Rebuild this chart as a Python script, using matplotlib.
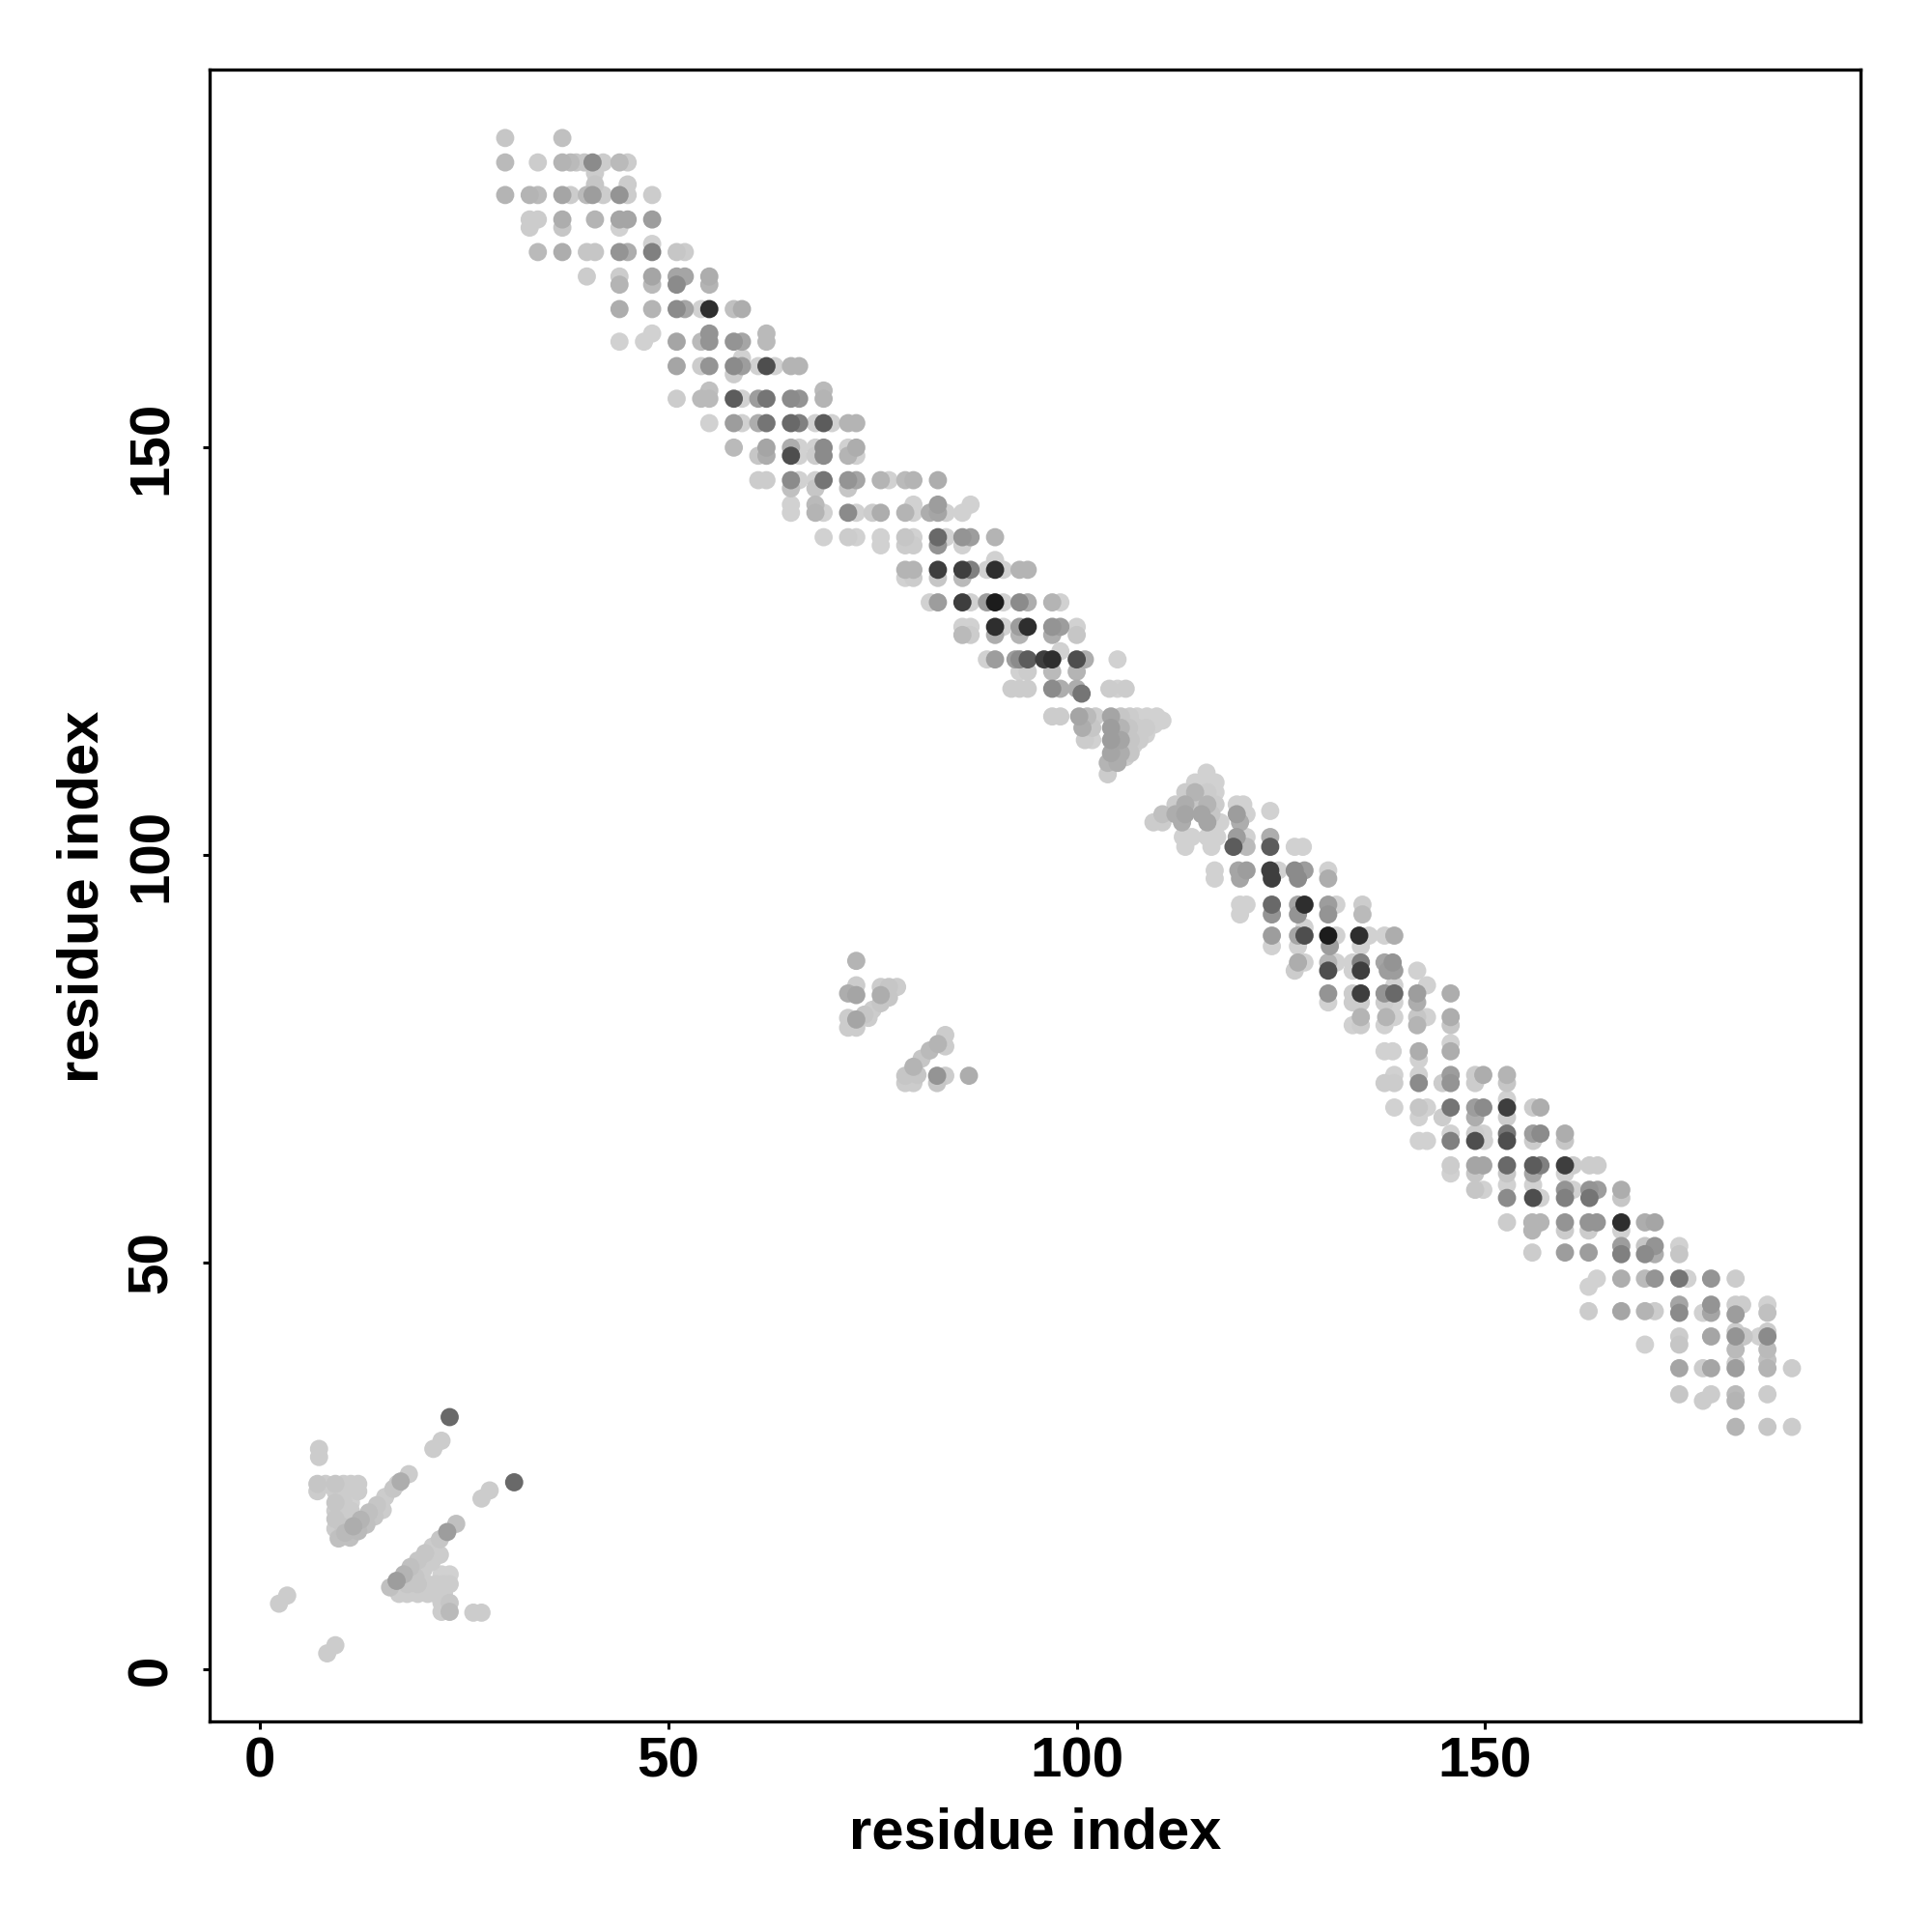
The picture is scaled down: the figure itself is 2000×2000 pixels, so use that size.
import numpy as np
import matplotlib.pyplot as plt

plt.rcParams["font.family"] = ["Liberation Sans", "DejaVu Sans"]
plt.rcParams["font.weight"] = "bold"

# contacts: (residue i, residue j, strength 0..1)
band_top = [
    (30, 188, .2), (37, 188, .25),
    (30, 185, .3), (34, 185, .15), (37, 185, .35), (38, 185, .3), (38.7, 185, .2),
    (39.7, 185, .2), (40.7, 185, .6), (42, 185, .15), (44, 185, .3), (45, 185, .15),
    (41, 183.7, .15), (41, 182.3, .2), (45, 182.3, .15),
    (30, 181, .35), (33, 181, .35), (34, 181, .3), (37, 181, .45), (38, 181, .15),
    (40, 181, .3), (40.7, 181, .5), (42, 181, .15), (44, 181, .55), (45, 181, .15), (48, 181, .15),
    (33, 178, .15), (34, 178, .15), (33, 177, .15), (37, 178, .4), (37, 177, .2),
    (41, 178, .35), (44, 178, .45), (45, 178, .45), (44, 177, .1), (48, 178, .5),
    (34, 174, .3), (37, 174, .4), (40, 174, .2), (41, 174, .2), (44, 174, .55),
    (45, 174, .4), (48, 174, .65), (48, 175, .1), (51, 174, .2), (52, 174, .15),
    (40, 171, .15), (44, 171, .15), (44, 170, .35), (48, 171, .45), (48, 170, .3),
    (51, 171, .45), (52, 171, .45), (51, 170, .6), (55, 171, .4), (55, 170, .35),
    (44, 167, .4), (48, 167, .35), (51, 167, .6), (52, 167, .45), (54, 167, .1),
    (55, 167, .95), (58, 167, .25), (59, 167, .4),
    (44, 163, .1), (47, 163, .1), (48, 164, .1), (51, 163, .45), (54, 163, .3),
    (55, 164, .55), (55, 163, .55), (58, 163, .55), (59, 163, .45), (62, 163, .3), (62, 164, .3),
    (51, 160, .45), (54, 160, .15), (55, 160, .55), (58, 160, .6), (59, 161, .1),
    (59, 160, .5), (58, 159, .15), (61, 160, .1), (62, 160, .85), (63, 160, .1),
    (65, 160, .35), (66, 160, .35),
    (51, 156, .15), (54, 156, .3), (55, 156, .3), (55, 157, .25), (58, 156, .8),
    (59, 156, .1), (61, 156, .5), (62, 156, .7), (65, 156, .6), (66, 156, .55),
    (69, 156, .35), (69, 157, .3),
    (55, 153, .1), (58, 153, .5), (59, 153, .1), (61, 153, .4), (62, 153, .7),
    (65, 153, .75), (66, 153, .65), (68, 153, .1), (69, 153, .8), (70, 153, .1),
    (72, 153, .35), (73, 153, .35),
    (58, 150, .3),
]

band_upper = [
    (62, 150, .45), (65, 150, .4), (66, 150, .1), (68, 150, .1), (69, 150, .6),
    (72, 150, .1), (73, 150, .4),
    (61, 149, .2), (62, 149, .4), (65, 149, .85), (66, 149, .1), (68, 149, .15),
    (69, 149, .6), (72, 149, .35), (73, 149, .1),
    (61, 146, .15), (62, 146, .15), (65, 146, .6), (66, 146, .1), (68, 146, .1),
    (69, 146, .7), (72, 146, .55), (73, 146, .45), (76, 146, .35), (77, 146, .1),
    (79, 146, .3), (80, 146, .35), (83, 146, .4),
    (65, 145, .25), (68, 145, .2), (72, 145, .2),
    (65, 143, .1), (68, 143, .3), (80, 143, .1), (83, 143, .5), (87, 143, .1),
    (65, 142, .1), (68, 142, .35), (69, 142, .1), (72, 142, .6), (73, 142, .1),
    (75, 142, .15), (76, 142, .4), (79, 142, .35), (80, 142, .1), (82, 142, .4),
    (83, 142, .45), (84, 142, .1), (86, 142, .1),
    (69, 139, .1), (72, 139, .15), (73, 139, .1), (76, 139, .1), (79, 139, .2),
    (80, 139, .1), (83, 139, .75), (84, 139, .1), (86, 139, .55), (87, 139, .5), (90, 139, .35),
    (76, 138, .1), (79, 138, .15), (80, 138, .15), (83, 138, .55), (86, 138, .1), (90, 136.2, .1),
    (79, 135, .35), (80, 135, .35), (83, 135, .9), (86, 135, .9), (87, 135, .65),
    (89, 135, .1), (90, 135, .95), (91, 135, .1), (93, 135, .35), (94, 135, .35),
    (79, 134, .1), (80, 134, .15), (83, 134, .2), (86, 134, .3),
    (82, 131, .1), (83, 131, .5), (86, 131, .9), (87, 131, .1), (89, 131, .5),
    (90, 131, 1.0), (91, 131, .1), (93, 131, .6), (94, 131, .4), (97, 131, .35), (98, 131, .1),
    (86, 128, .1), (87, 128, .1), (90, 128, .95), (91, 128, .1), (93, 128, .5),
    (94, 128, .95), (97, 128, .55), (98, 128, .5), (100, 128, .1),
    (86, 127, .3), (87, 127, .15), (90, 127, .4), (93, 127, .35), (97, 127, .4), (100, 127, .2),
    (89, 124, .1), (90, 124, .5), (92.5, 124, .5), (93, 124, .6), (94, 124, .8),
    (96, 124, .9), (97, 124, .95), (98, 125, .1), (100, 124, .85), (101, 124, .4), (105, 124, .1),
    (93, 122.5, .1), (94, 122.5, .15), (97, 122.5, .3), (100, 122.5, .35),
    (92, 120.4, .15), (93, 120.4, .15), (94, 120.4, .15), (97, 120.4, .6), (98, 120.4, .4),
    (100, 120.4, .4), (100.6, 119.8, .7), (104, 120.4, .15), (105, 120.4, .1), (106, 120.4, .15),
]

hinge_upper = [
    (97, 117, .15), (98, 117, .15), (100.3, 117, .45), (101.3, 117, .3), (102.3, 117, .15),
    (104.2, 117, .45), (105.4, 117, .2), (106.5, 117, .15), (107.4, 117, .1),
    (108.6, 117, .1), (109.8, 117, .1), (110.5, 116.5, .1),
    (100.7, 115.6, .4), (101.9, 115.6, .2), (104.2, 115.6, .5), (105.4, 115.6, .35),
    (106.4, 115.6, .2), (107.4, 115.6, .15), (108.5, 115.6, .15),
    (101, 114.1, .15), (101.9, 114.1, .1), (104.2, 114.1, .5), (105.4, 114.1, .45),
    (106.6, 114.1, .2), (107.7, 114.1, .15),
    (104.2, 112.5, .45), (105.4, 112.5, .4), (106.6, 112.5, .2),
    (103.8, 111.3, .35), (105, 111.3, .4), (103.8, 109.9, .15),
    (106, 112, .15), (107, 113.5, .1), (108.5, 114.8, .1), (109.5, 116, .1),
]

hinge_lower = [
    (115.9, 110.1, .1),
    (114.5, 108.9, .1), (116, 108.9, .1), (117, 108.9, .1),
    (113.3, 107.7, .15), (114.5, 107.7, .35), (116, 107.7, .15), (117, 107.7, .1),
    (112.1, 106.2, .15), (113.3, 106.2, .4), (114.5, 106.2, .2), (116, 106.2, .35),
    (117, 106.2, .15), (119.6, 106.2, .1), (120.4, 106.2, .1),
    (110.5, 105, .25), (112.1, 105, .4), (113.3, 105, .45), (115.3, 105, .45),
    (116.5, 105, .2), (119.6, 105, .5), (120.8, 105, .1), (123.7, 105.4, .1),
    (109.4, 104, .15), (110.5, 104, .15), (112.9, 104, .4), (116, 104, .45),
    (117.6, 104, .1), (120, 104, .4),
    (113, 102.2, .1), (114.1, 102.2, .1), (116, 102.2, .1), (117.2, 102.2, .1),
    (119.6, 102.2, .5), (120.8, 102.2, .1), (123.7, 102.2, .4),
    (113.3, 101, .1), (116.5, 101, .1), (119.2, 101, .8), (120.8, 101, .3),
    (123.7, 101, .8), (126.7, 101, .1), (127.7, 101, .1),
]

band_lower = [
    (116.9, 98.1, .1), (119.8, 98.1, .45), (120.8, 98.1, .5), (123.7, 98.1, .9),
    (124.7, 98.1, .1), (126.7, 98.1, .6), (127.9, 98.1, .5), (130.8, 98.1, .1),
    (116.9, 97.1, .1), (120, 97.1, .45), (123.9, 97.1, .9), (127.1, 97.1, .6), (130.8, 97.1, .4),
    (120, 93.9, .1), (120.8, 93.9, .1), (123.9, 93.9, .75), (127.1, 93.9, .45),
    (127.9, 93.9, .95), (130.8, 93.9, .5), (131.8, 93.9, .1), (135, 93.9, .15),
    (120, 92.7, .1), (123.9, 92.7, .55), (127.1, 92.7, .55), (130.8, 92.7, .55), (135, 92.7, .3),
    (127.9, 91.1, .1),
    (123.9, 90.1, .5), (127.1, 90.1, .45), (127.9, 90.1, .85), (130.8, 90.1, 1.0),
    (131.8, 90.1, .1), (134.6, 90.1, .95), (135.8, 90.1, .1), (137.7, 90.1, .1), (138.9, 90.1, .4),
    (123.9, 88.8, .1), (127.1, 88.8, .1), (131, 88.8, .5), (134.8, 88.8, .1),
    (127.1, 86.8, .4), (127.9, 86.8, .1), (130.8, 86.8, .35), (131.8, 86.8, .1),
    (133.8, 86.8, .1), (134.8, 86.8, .65), (137.7, 86.8, .45), (138.7, 86.8, .55),
    (126.7, 85.8, .15), (130.8, 85.8, .85), (133.8, 85.8, .1), (134.8, 85.8, .9),
    (138.1, 85.8, .5), (138.9, 85.8, .5), (141.7, 85.8, .1),
    (138.9, 84, .1), (142.9, 84, .1),
    (130.8, 83, .55), (133.8, 83, .15), (134.8, 83, .9), (137.7, 83, .55),
    (138.9, 83, .75), (141.7, 83, .5), (145.8, 83, .4),
    (130.8, 81.9, .1), (133.8, 81.9, .15), (134.8, 81.9, .15), (137.7, 81.9, .15),
    (138.9, 81.9, .1), (141.7, 81.9, .4),
    (134.8, 80.1, .35), (137.9, 80.1, .35), (138.9, 80.1, .1), (141.7, 80.1, .2),
    (142.9, 80.1, .1), (145.8, 80.1, .4),
    (133.8, 79.1, .1), (134.8, 79.1, .15), (137.7, 79.1, .1), (141.7, 79.1, .35), (145.8, 79.1, .2),
    (145.8, 76.9, .1),
    (137.7, 75.9, .1), (138.7, 75.9, .1), (141.9, 75.9, .4), (145.8, 75.9, .4), (141.9, 74.9, .1),
    (138.9, 73, .1), (141.9, 73, .1), (145.8, 73, .5), (148.8, 73, .15), (149.8, 73, .4), (152.7, 73, .35),
    (137.7, 72, .15), (138.9, 72, .15), (141.9, 72, .6), (144.8, 72, .15),
    (145.8, 72, .55), (148.8, 72, .15), (152.7, 72, .2), (152.7, 70, .1),
    (138.9, 69, .1), (141.9, 69, .2), (142.9, 69, .1), (145.8, 69, .7), (148.8, 69, .5),
    (149.8, 69, .6), (152.7, 69, .9), (155.9, 69, .15), (156.8, 69, .4),
    (141.9, 67.8, .1), (144.8, 67.8, .15), (148.8, 67.8, .4), (152.7, 67.8, .15),
    (145.8, 65.8, .1), (148.8, 65.8, .15), (149.8, 65.8, .1), (152.7, 65.8, .7),
    (155.9, 65.8, .5), (156.8, 65.8, .6), (159.8, 65.8, .4),
    (141.9, 64.9, .1), (142.9, 64.9, .1), (145.8, 64.9, .65), (148.8, 64.9, .85),
    (149.9, 64.9, .1), (152.7, 64.9, .85), (155.9, 64.9, .15), (159.8, 64.9, .2),
    (145.8, 61.9, .15), (148.8, 61.9, .45), (149.8, 61.9, .45), (152.7, 61.9, .75),
    (155.9, 61.9, .8), (156.8, 61.9, .65), (159.8, 61.9, .9), (160.8, 61.9, .15),
    (162.8, 61.9, .15), (163.8, 61.9, .15),
    (145.8, 60.9, .1), (148.8, 60.9, .2), (152.7, 60.9, .2), (155.9, 60.9, .45), (159.8, 60.9, .1),
    (148.8, 58.9, .2), (149.8, 58.9, .1), (152.7, 59.5, .1), (155.9, 59.5, .1),
    (159.8, 58.9, .55), (160.8, 58.9, .1), (162.8, 58.9, .55), (163.8, 58.9, .5), (166.7, 58.9, .4),
    (152.7, 57.9, .6), (155.9, 57.9, .85), (156.8, 57.9, .1), (159.8, 57.9, .65),
    (162.8, 57.9, .7), (166.7, 57.9, .2),
]

band_tail = [
    (152.7, 54.9, .15), (155.8, 54.9, .35), (156.8, 54.9, .35), (155.8, 53.9, .35),
    (159.8, 54.9, .55), (159.8, 53.9, .15), (162.7, 54.9, .55), (163.7, 54.9, .55),
    (162.7, 53.9, .15), (166.7, 54.9, .95), (166.7, 53.9, .1), (169.6, 54.9, .4), (170.8, 54.9, .45),
    (155.8, 51.2, .15), (159.8, 51.2, .5), (162.7, 51.2, .5), (166.7, 52, .5), (166.7, 51, .65),
    (169.6, 52, .2), (170.8, 52, .55), (169.6, 51, .6), (170.8, 51, .4), (173.8, 52, .1), (173.8, 51, .2),
    (162.7, 47, .1), (163.7, 48, .1), (166.7, 48, .4), (169.6, 48, .3), (170.8, 48, .55),
    (173.8, 48, .7), (174.8, 48, .1), (177.7, 48, .55), (180.7, 48, .15),
    (162.7, 44, .15), (166.7, 44, .45), (169.6, 44, .35), (170.8, 44, .15), (173.8, 44.8, .45),
    (173.8, 43.8, .6), (176.7, 43.8, .1), (177.7, 44.8, .55), (177.7, 43.8, .45),
    (180.7, 44.8, .15), (181.5, 44.8, .15), (180.7, 43.6, .5), (184.6, 44.8, .1), (184.6, 43.8, .25),
    (169.6, 39.9, .1), (173.8, 40.9, .15), (173.8, 39.9, .2), (177.7, 40.9, .45),
    (180.7, 41.5, .15), (180.7, 40.9, .55), (181.7, 40.9, .2), (183.6, 40.9, .1),
    (184.6, 41.5, .15), (184.6, 40.9, .6), (180.7, 39.3, .3), (184.6, 39.3, .3), (184.6, 38, .25),
    (173.8, 37, .45), (176.7, 37, .15), (177.7, 37, .45), (180.7, 37.6, .15), (180.7, 37, .5),
    (184.6, 37, .35), (187.6, 37, .15),
    (173.8, 33.8, .2), (176.7, 33, .15), (177.7, 33.8, .15), (180.7, 33.8, .3),
    (180.7, 33, .35), (184.6, 33.8, .15),
    (180.7, 29.8, .35), (184.6, 29.8, .2), (187.6, 29.8, .15),
]

side_cluster = [
    (73, 87, .35), (73, 84, .15), (73, 82.8, .45), (72, 83, .4), (76, 83.8, .15),
    (77, 83.8, .2), (78, 83.8, .15), (76, 82.8, .4), (77, 82.5, .2),
    (72, 78.8, .15), (73, 79.8, .45), (74, 80.4, .2), (75, 81, .15), (76, 81.8, .2),
    (72, 80, .15), (73, 78.8, .15), (74.5, 80, .15),
    (79, 72.9, .2), (80, 74, .35), (81, 75, .2), (82, 76, .3), (83, 76.8, .35),
    (83.9, 77.9, .15), (83.9, 76.5, .15), (79, 72, .15), (80, 72, .15), (82.9, 72.9, .55),
    (83.9, 72.9, .15), (82.9, 72, .2), (86.8, 72.9, .4), (80.5, 73, .2),
]

nterm_cluster = [
    (23.2, 31.0, .75), (21.2, 27.1, .15), (22.2, 28.1, .15), (7.2, 27.1, .15), (7.2, 26.1, .15),
    (31.1, 23.0, .75), (27.1, 21, .15), (28.1, 22, .15),
    (7, 22.8, .2), (8, 22.8, .15), (9.2, 22.8, .2), (10.2, 22.8, .15), (11.1, 22.8, .15),
    (12, 22.8, .15), (7, 21.9, .15), (9.2, 21.9, .15), (10.2, 21.9, .15), (11.1, 21.9, .1),
    (12, 21.9, .15),
    (9.2, 20.5, .2), (9.2, 19.5, .15), (9.2, 18.5, .2), (9.2, 17.3, .15), (10.2, 20.5, .15),
    (10.2, 19, .15), (10.2, 17.5, .2), (11.1, 19.5, .15), (11.1, 20.5, .1),
    (9.6, 16.1, .25), (10.4, 16.8, .3), (11.4, 17.6, .4), (12.3, 18.4, .35), (13.3, 19.3, .25),
    (14.3, 20.2, .2), (15.3, 21.2, .15), (16.3, 22.2, .2), (17.2, 23.1, .4), (18.2, 24, .15),
    (16.8, 22.8, .15), (11, 16.2, .25), (12, 17, .3), (13, 17.8, .25), (14, 18.8, .2), (15, 19.6, .15),
    (15.9, 10.1, .25), (16.7, 10.9, .5), (17.6, 11.7, .35), (18.4, 12.6, .25), (19.3, 13.4, .2),
    (20.2, 14.3, .2), (21.1, 15.1, .15), (22, 16, .2), (22.9, 16.9, .5), (24, 17.9, .25),
    (18, 10.5, .2), (19, 11.4, .2), (20, 12.3, .15), (21, 13.2, .15), (22, 14.1, .15),
    (17, 9.3, .15), (18, 9.3, .15), (19.3, 10.5, .2), (20.5, 10.5, .15), (21.5, 10.5, .15),
    (22.5, 10.5, .15), (23.2, 10.5, .15), (19.3, 9.3, .15), (20.5, 9.3, .15), (21.5, 9.3, .15),
    (22.5, 9.3, .15),
    (22.2, 11.7, .1), (23.2, 11.7, .1), (22.2, 8.2, .15), (23.2, 8.2, .2), (22.2, 7.1, .15), (23.2, 7.1, .3),
    (26.1, 7, .15), (27.1, 7, .15), (2.3, 8.1, .15), (3.3, 9.1, .15), (8.2, 2, .15), (9.2, 3, .15),
]

x_ticks = [0, 50, 100, 150]
y_ticks = [0, 50, 100, 150]


def main():
    pts = np.array(band_top + band_upper + hinge_upper + hinge_lower
                   + band_lower + band_tail + side_cluster + nterm_cluster)
    pts = pts[np.argsort(pts[:, 2], kind="stable")]
    p = pts[:, 2]
    # light grey for weak contacts, near black for the strongest
    g = np.clip(0.86 - 0.4 * p - 0.35 * p ** 3, 0.1, 1)
    colors = np.column_stack([g, g, g])

    fig = plt.figure(figsize=(10, 10), dpi=200)
    ax = fig.add_axes([0.1085, 0.1090, 0.8545, 0.8550])
    ax.scatter(pts[:, 0], pts[:, 1], s=46, c=colors, linewidths=0)

    ax.set_xlim(-6.2, 196.0)
    ax.set_ylim(-6.35, 196.4)
    ax.set_xticks(x_ticks)
    ax.set_yticks(y_ticks)
    ax.set_yticklabels([str(t) for t in y_ticks], rotation=90, va="center")
    ax.tick_params(axis="both", length=2.7, width=1.1, labelsize=21)
    ax.tick_params(axis="x", pad=2.7)
    ax.tick_params(axis="y", pad=9)
    for s in ax.spines.values():
        s.set_linewidth(1.2)

    fig.text(0.5357, 0.0435, "residue index", ha="center", va="baseline",
             fontsize=21.5, fontweight="bold")
    fig.text(0.051, 0.5357, "residue index", ha="center", va="baseline",
             rotation=90, rotation_mode="anchor", fontsize=21.5, fontweight="bold")

    fig.savefig("out.png", dpi=200, facecolor="white")


if __name__ == "__main__":
    main()
